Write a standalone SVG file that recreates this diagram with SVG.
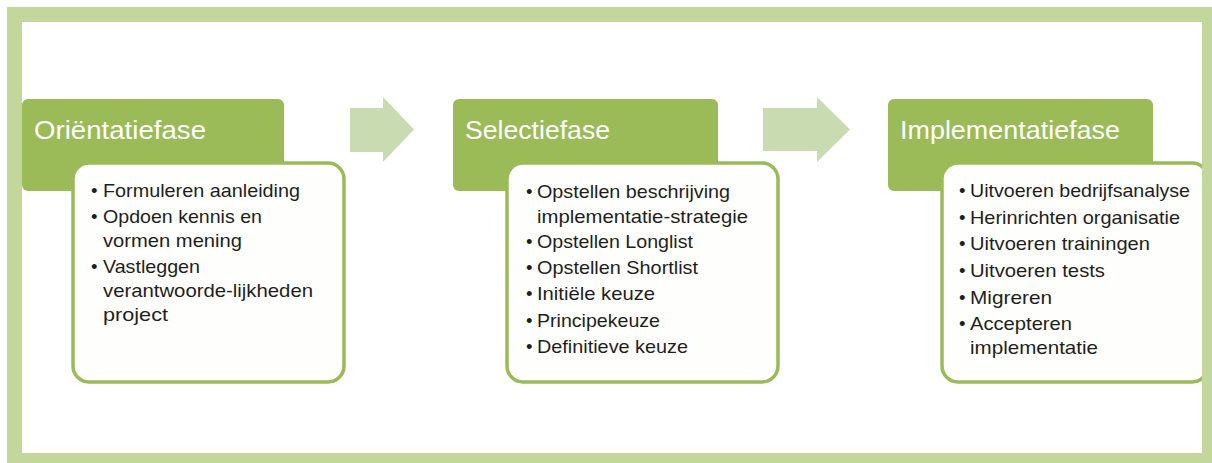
<svg xmlns="http://www.w3.org/2000/svg" width="1212" height="463" viewBox="0 0 1212 463">
  <style>
    .head { fill: #9bbb59; }
    .head-text { font-family: "Liberation Sans", Arial, sans-serif; font-size: 26px; fill: #ffffff; }
    .card { fill: #fefffc; stroke: #9bbb59; stroke-width: 3.5; }
    .item { font-family: "Liberation Sans", Arial, sans-serif; font-size: 18.5px; fill: #1e1e1e; }
    .arrow { fill: #c9dbb1; }
    .frame { fill: #c3d69b; fill-rule: evenodd; }
  </style>

  <rect x="0" y="0" width="1212" height="463" fill="#ffffff"/>

  <!-- phase arrows between the columns -->
  <g id="connectors">
    <polygon class="arrow" points="350,108 383,108 383,97 414,129.5 383,162 383,152 350,152"/>
    <polygon class="arrow" points="763,108 817,108 817,97 850,129.5 817,162 817,151 763,151"/>
  </g>

  <!-- column 1 -->
  <g id="orientatiefase">
    <rect class="head" x="22" y="99" width="262" height="92" rx="6"/>
    <text class="head-text" x="34" y="139" textLength="172" lengthAdjust="spacingAndGlyphs">Oriëntatiefase</text>
    <rect class="card" x="73" y="163" width="271" height="219" rx="16"/>
    <g class="item">
      <text x="91" y="197">•</text>
      <text x="103" y="197" textLength="197" lengthAdjust="spacingAndGlyphs">Formuleren aanleiding</text>
      <text x="91" y="223">•</text>
      <text x="103" y="223" textLength="159" lengthAdjust="spacingAndGlyphs">Opdoen kennis en</text>
      <text x="103" y="247" textLength="139" lengthAdjust="spacingAndGlyphs">vormen mening</text>
      <text x="91" y="273">•</text>
      <text x="103" y="273" textLength="97" lengthAdjust="spacingAndGlyphs">Vastleggen</text>
      <text x="103" y="297" textLength="210" lengthAdjust="spacingAndGlyphs">verantwoorde-lijkheden</text>
      <text x="103" y="321" textLength="65" lengthAdjust="spacingAndGlyphs">project</text>
    </g>
  </g>

  <!-- column 2 -->
  <g id="selectiefase">
    <rect class="head" x="453" y="99" width="265" height="92" rx="6"/>
    <text class="head-text" x="465" y="139" textLength="145" lengthAdjust="spacingAndGlyphs">Selectiefase</text>
    <rect class="card" x="507" y="163" width="271" height="219" rx="16"/>
    <g class="item">
      <text x="526" y="198">•</text>
      <text x="537" y="198" textLength="193" lengthAdjust="spacingAndGlyphs">Opstellen beschrijving</text>
      <text x="537" y="223" textLength="211" lengthAdjust="spacingAndGlyphs">implementatie-strategie</text>
      <text x="526" y="248">•</text>
      <text x="537" y="248" textLength="156" lengthAdjust="spacingAndGlyphs">Opstellen Longlist</text>
      <text x="526" y="274">•</text>
      <text x="537" y="274" textLength="161" lengthAdjust="spacingAndGlyphs">Opstellen Shortlist</text>
      <text x="526" y="300">•</text>
      <text x="537" y="300" textLength="118" lengthAdjust="spacingAndGlyphs">Initiële keuze</text>
      <text x="526" y="327">•</text>
      <text x="537" y="327" textLength="123" lengthAdjust="spacingAndGlyphs">Principekeuze</text>
      <text x="526" y="353">•</text>
      <text x="537" y="353" textLength="151" lengthAdjust="spacingAndGlyphs">Definitieve keuze</text>
    </g>
  </g>

  <!-- column 3 -->
  <g id="implementatiefase">
    <rect class="head" x="888" y="99" width="265" height="92" rx="6"/>
    <text class="head-text" x="900" y="139" textLength="220" lengthAdjust="spacingAndGlyphs">Implementatiefase</text>
    <rect class="card" x="942" y="163" width="266" height="219" rx="16"/>
    <g class="item">
      <text x="959" y="197">•</text>
      <text x="970" y="197" textLength="220" lengthAdjust="spacingAndGlyphs">Uitvoeren bedrijfsanalyse</text>
      <text x="959" y="224">•</text>
      <text x="970" y="224" textLength="210" lengthAdjust="spacingAndGlyphs">Herinrichten organisatie</text>
      <text x="959" y="250">•</text>
      <text x="970" y="250" textLength="180" lengthAdjust="spacingAndGlyphs">Uitvoeren trainingen</text>
      <text x="959" y="277">•</text>
      <text x="970" y="277" textLength="135" lengthAdjust="spacingAndGlyphs">Uitvoeren tests</text>
      <text x="959" y="304">•</text>
      <text x="970" y="304" textLength="82" lengthAdjust="spacingAndGlyphs">Migreren</text>
      <text x="959" y="330">•</text>
      <text x="970" y="330" textLength="102" lengthAdjust="spacingAndGlyphs">Accepteren</text>
      <text x="970" y="354" textLength="128" lengthAdjust="spacingAndGlyphs">implementatie</text>
    </g>
  </g>

  <!-- outer light-green frame -->
  <path class="frame" d="M7,7 H1212 V463 H7 Z M22,22 V453 H1202 V22 Z"/>
</svg>
